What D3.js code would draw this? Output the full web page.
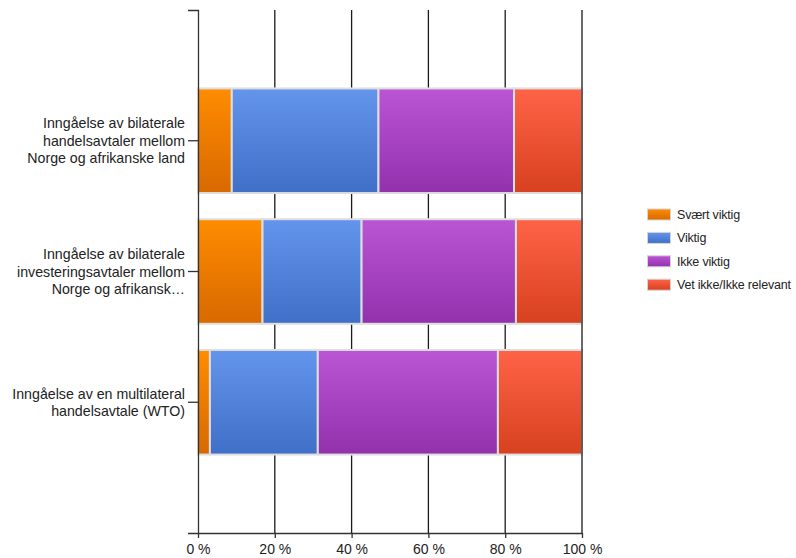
<!DOCTYPE html>
<html>
<head>
<meta charset="utf-8">
<script src="https://cdn.jsdelivr.net/npm/d3@7"></script>
<style>
  body { margin: 0; background: #fff; }
  svg text { font-family: "Liberation Sans", Arial, sans-serif; fill: #222; }
</style>
</head>
<body>
<svg id="chart" width="796" height="558"></svg>
<script>
// Survey answers, share of respondents (%) per statement
const categories = [
  ["Inngåelse av bilaterale", "handelsavtaler mellom", "Norge og afrikanske land"],
  ["Inngåelse av bilaterale", "investeringsavtaler mellom", "Norge og afrikansk…"],
  ["Inngåelse av en multilateral", "handelsavtale (WTO)"]
];
const seriesNames = ["Svært viktig", "Viktig", "Ikke viktig", "Vet ikke/Ikke relevant"];
const svaertViktig = [8.8, 16.8, 3.1];
const viktig = [38.2, 25.8, 28.1];
const ikkeViktig = [35.3, 40.2, 46.9];
const vetIkke = [17.7, 17.2, 21.9];
const xTicks = [0, 20, 40, 60, 80, 100];

// Fill palette: gradient top / bottom per series
const topColors = ["#ff8c00", "#6495ed", "#ba55d3", "#ff6347"];
const bottomColors = ["#d86900", "#3f6fc6", "#9331ad", "#d7411f"];

const seriesValues = [svaertViktig, viktig, ikkeViktig, vetIkke];
const catKeys = categories.map(c => c.join(" "));
const rows = catKeys.map((k, i) => {
  const r = { key: k };
  seriesNames.forEach((s, j) => { r[s] = seriesValues[j][i]; });
  return r;
});

const svg = d3.select("#chart");
const plot = { left: 198, right: 582, top: 10, bottom: 533 };

const x = d3.scaleLinear().domain([0, 100]).range([plot.left, plot.right]);
const y = d3.scaleBand().domain(catKeys).range([plot.top, plot.bottom])
  .paddingInner(0.2).paddingOuter(0.6);

// Gradients
const defs = svg.append("defs");
seriesNames.forEach((s, i) => {
  const g = defs.append("linearGradient").attr("id", "grad" + i)
    .attr("x1", 0).attr("y1", 0).attr("x2", 0).attr("y2", 1);
  g.append("stop").attr("offset", "0%").attr("stop-color", topColors[i]);
  g.append("stop").attr("offset", "100%").attr("stop-color", bottomColors[i]);
});

// Vertical grid lines
svg.append("g").selectAll("line")
  .data(xTicks.filter(t => t > 0 && t < 100))
  .join("line")
  .attr("x1", d => x(d)).attr("x2", d => x(d))
  .attr("y1", plot.top).attr("y2", plot.bottom)
  .attr("stroke", "#1a1a1a").attr("stroke-width", 1.3);

// Stacked bars
const stacked = d3.stack().keys(seriesNames)(rows);
svg.append("g").selectAll("g")
  .data(stacked)
  .join("g")
  .attr("fill", (d, i) => `url(#grad${i})`)
  .selectAll("rect")
  .data(d => d)
  .join("rect")
  .attr("x", d => x(d[0]))
  .attr("width", d => x(d[1]) - x(d[0]))
  .attr("y", d => y(d.data.key))
  .attr("height", y.bandwidth())
  .attr("stroke", "#dedede")
  .attr("stroke-width", 2);

// 100 % border line
svg.append("line")
  .attr("x1", x(100)).attr("x2", x(100))
  .attr("y1", plot.top).attr("y2", plot.bottom)
  .attr("stroke", "#1a1a1a").attr("stroke-width", 1.3);

// X axis
const xAxis = svg.append("g")
  .attr("transform", `translate(0,${plot.bottom})`)
  .call(d3.axisBottom(x).tickValues(xTicks).tickFormat(d => d + " %")
    .tickSize(5).tickSizeOuter(0).tickPadding(6));
xAxis.selectAll("path, line").attr("stroke", "#333").attr("stroke-width", 1.3);
xAxis.selectAll("text").style("font-size", "14px").attr("fill", "#222");

// Y axis with wrapped category labels
const lineH = 17.5;
const yAxis = svg.append("g")
  .attr("transform", `translate(${plot.left},0)`)
  .call(d3.axisLeft(y).tickSize(10).tickSizeOuter(10).tickPadding(3).tickFormat(""));
yAxis.selectAll("path, line").attr("stroke", "#333").attr("stroke-width", 1.3);
yAxis.selectAll(".tick text").each(function (d) {
  const lines = categories[catKeys.indexOf(d)];
  const t = d3.select(this).style("font-size", "14.2px").attr("fill", "#222");
  t.selectAll("tspan").data(lines).join("tspan")
    .attr("x", -13)
    .attr("dy", (l, i) => i === 0 ? (-(lines.length - 1) / 2 * lineH + 5) + "px" : lineH + "px")
    .text(l => l);
  t.attr("dy", null);
});

// Legend
const legend = svg.append("g").attr("transform", "translate(647,214.5)");
const item = legend.selectAll("g").data(seriesNames).join("g")
  .attr("transform", (d, i) => `translate(0,${i * 23.4})`);
item.append("rect")
  .attr("x", 0.5).attr("y", -5.5).attr("width", 23).attr("height", 11)
  .attr("fill", (d, i) => `url(#grad${i})`)
  .attr("stroke", "#d4d4d4").attr("stroke-width", 1);
item.append("text")
  .attr("x", 30).attr("y", 0).attr("dy", "0.35em")
  .style("font-size", "12.5px").style("letter-spacing", "-0.2px")
  .text(d => d);
</script>
</body>
</html>
